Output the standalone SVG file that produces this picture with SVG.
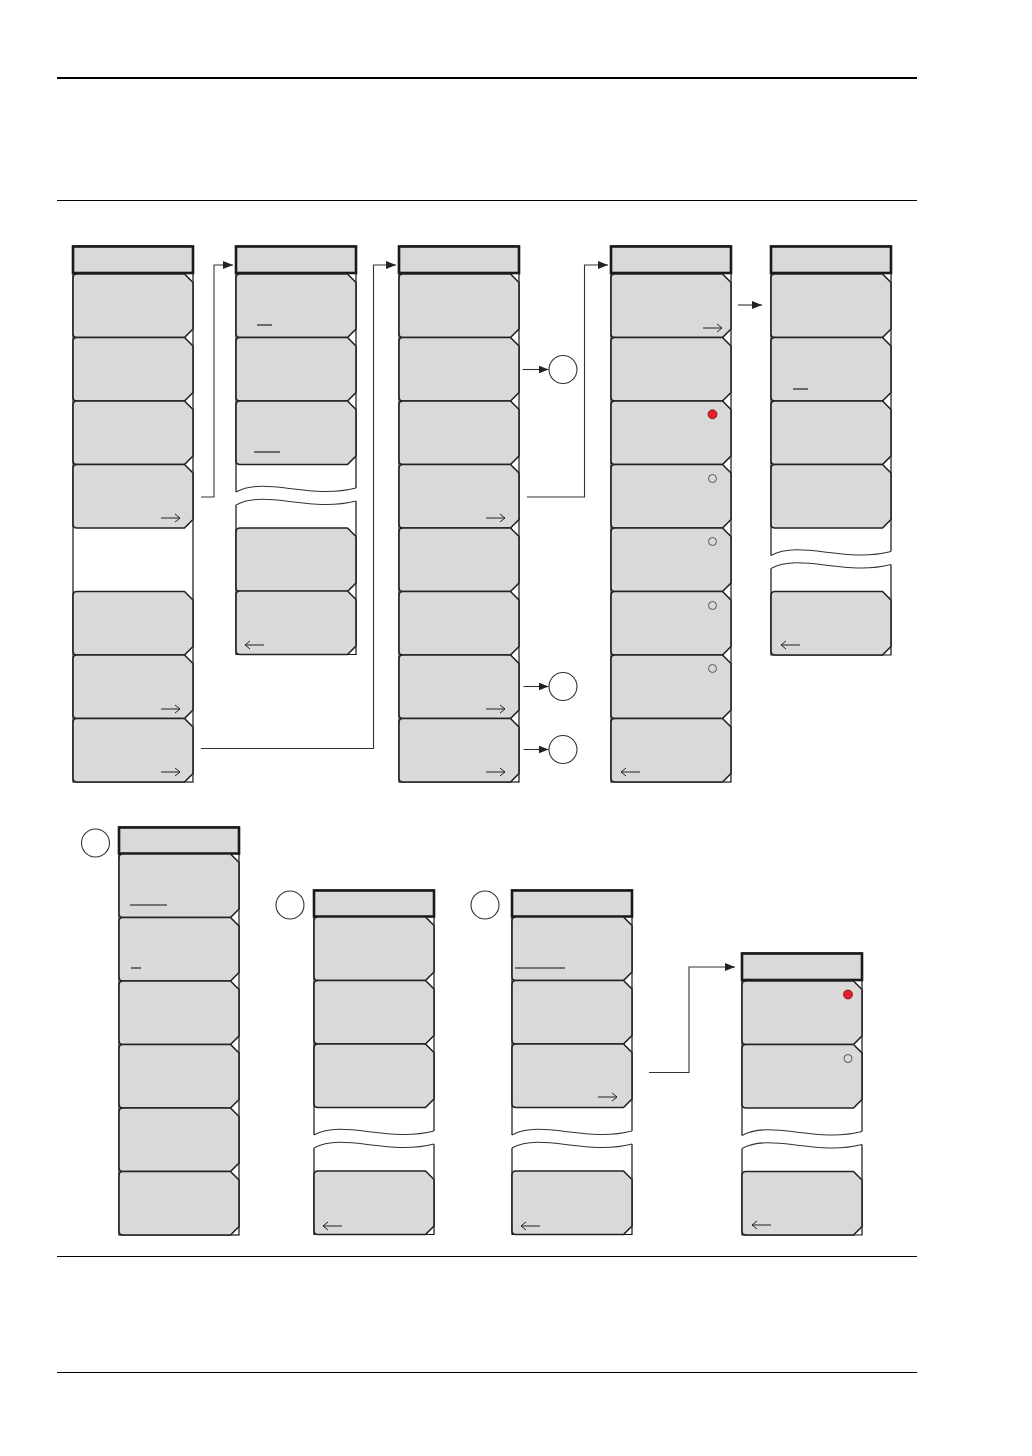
<svg xmlns="http://www.w3.org/2000/svg" width="1032" height="1456" viewBox="0 0 1032 1456">
<defs>
<style>
.btn{fill:#d9d9d9;stroke:#222;stroke-width:1.6;stroke-linejoin:round}
.hdr{fill:#d9d9d9;stroke:#1a1a1a;stroke-width:2.6}
.box{fill:none;stroke:#111;stroke-width:1.2}
.wave{fill:none;stroke:#333;stroke-width:1.1}
.ico{fill:none;stroke:#222;stroke-width:1}
.ul{stroke:#111;stroke-width:1.1}
.hol{fill:#d9d9d9;stroke:#555;stroke-width:1}
.red{fill:#e3202b;stroke:#7a1010;stroke-width:0.8}
.off{fill:#fff;stroke:#333;stroke-width:1.1}
.con{fill:none;stroke:#333;stroke-width:1.1}
.rule{stroke:#000}
</style>
<marker id="ah" viewBox="0 0 10 8" refX="10" refY="4" markerWidth="10" markerHeight="8" markerUnits="userSpaceOnUse" orient="auto">
<path d="M0,0 L10,4 L0,8 Z" fill="#222"/>
</marker>
<path id="b" d="M4,0 H111.5 L120,8.5 V55 L111.5,63.5 H4 Q0,63.5 0,59.5 V4 Q0,0 4,0 Z"/>
<path id="ra" d="M0,0 H19 M14,-4 L19,0 L14,4"/>
<path id="la" d="M19,0 H0 M5,-4 L0,0 L5,4"/>
</defs>
<rect width="1032" height="1456" fill="#fff"/>

<g id="page-rules">
<line class="rule" x1="57" y1="78" x2="917" y2="78" stroke-width="2.2"/>
<line class="rule" x1="57" y1="200.5" x2="917" y2="200.5" stroke-width="1"/>
<line class="rule" x1="57" y1="1256.5" x2="917" y2="1256.5" stroke-width="1"/>
<line class="rule" x1="57" y1="1372.5" x2="917" y2="1372.5" stroke-width="1"/>
</g>

<g id="menu1" transform="translate(73,0)">
<rect class="box" x="0" y="246" width="120" height="536"/>
<rect class="hdr" x="0" y="246.5" width="120" height="26.5"/>
<use href="#b" class="btn" y="274"/>
<use href="#b" class="btn" y="337.5"/>
<use href="#b" class="btn" y="401"/>
<use href="#b" class="btn" y="464.5"/>
<use href="#b" class="btn" y="591.5"/>
<use href="#b" class="btn" y="655"/>
<use href="#b" class="btn" y="718.5"/>
<use href="#ra" class="ico" x="88" y="518"/>
<use href="#ra" class="ico" x="88" y="709"/>
<use href="#ra" class="ico" x="88" y="772"/>
</g>

<g id="menu2" transform="translate(236,0)">
<path class="box" d="M0,492 V246 H120 V488"/>
<path class="box" d="M0,505 V654.5 H120 V501"/>
<rect class="hdr" x="0" y="246.5" width="120" height="26.5"/>
<use href="#b" class="btn" y="274"/>
<use href="#b" class="btn" y="337.5"/>
<use href="#b" class="btn" y="401"/>
<path class="wave" d="M0,492 C29,476 74,500 120,488"/>
<path class="wave" d="M0,505 C29,489 74,513 120,501"/>
<use href="#b" class="btn" y="528"/>
<use href="#b" class="btn" y="591"/>
<line class="ul" x1="21" y1="325" x2="36" y2="325"/>
<line class="ul" x1="18" y1="452" x2="44" y2="452"/>
<use href="#la" class="ico" x="9" y="645"/>
</g>

<g id="menu3" transform="translate(399,0)">
<rect class="box" x="0" y="246" width="120" height="536"/>
<rect class="hdr" x="0" y="246.5" width="120" height="26.5"/>
<use href="#b" class="btn" y="274"/>
<use href="#b" class="btn" y="337.5"/>
<use href="#b" class="btn" y="401"/>
<use href="#b" class="btn" y="464.5"/>
<use href="#b" class="btn" y="528"/>
<use href="#b" class="btn" y="591.5"/>
<use href="#b" class="btn" y="655"/>
<use href="#b" class="btn" y="718.5"/>
<use href="#ra" class="ico" x="87" y="518"/>
<use href="#ra" class="ico" x="87" y="709"/>
<use href="#ra" class="ico" x="87" y="772"/>
</g>

<g id="menu4" transform="translate(611,0)">
<rect class="box" x="0" y="246" width="120" height="536"/>
<rect class="hdr" x="0" y="246.5" width="120" height="26.5"/>
<use href="#b" class="btn" y="274"/>
<use href="#b" class="btn" y="337.5"/>
<use href="#b" class="btn" y="401"/>
<use href="#b" class="btn" y="464.5"/>
<use href="#b" class="btn" y="528"/>
<use href="#b" class="btn" y="591.5"/>
<use href="#b" class="btn" y="655"/>
<use href="#b" class="btn" y="718.5"/>
<use href="#ra" class="ico" x="92" y="328"/>
<circle class="red" cx="101.5" cy="414.3" r="4.5"/>
<circle class="hol" cx="101.5" cy="478.5" r="4"/>
<circle class="hol" cx="101.5" cy="541.5" r="4"/>
<circle class="hol" cx="101.5" cy="605.5" r="4"/>
<circle class="hol" cx="101.5" cy="668.5" r="4"/>
<use href="#la" class="ico" x="10" y="772"/>
</g>

<g id="menu5" transform="translate(771,0)">
<path class="box" d="M0,555.5 V246 H120 V551.5"/>
<path class="box" d="M0,568.5 V655 H120 V564.5"/>
<rect class="hdr" x="0" y="246.5" width="120" height="26.5"/>
<use href="#b" class="btn" y="274"/>
<use href="#b" class="btn" y="337.5"/>
<use href="#b" class="btn" y="401"/>
<use href="#b" class="btn" y="464.5"/>
<path class="wave" d="M0,555.5 C29,539.5 74,563.5 120,551.5"/>
<path class="wave" d="M0,568.5 C29,552.5 74,576.5 120,564.5"/>
<use href="#b" class="btn" y="591.5"/>
<line class="ul" x1="22" y1="389" x2="37" y2="389"/>
<use href="#la" class="ico" x="10" y="645"/>
</g>

<g id="menuA" transform="translate(119,0)">
<rect class="box" x="0" y="827" width="120" height="408"/>
<rect class="hdr" x="0" y="827.5" width="120" height="26"/>
<use href="#b" class="btn" y="854"/>
<use href="#b" class="btn" y="917.5"/>
<use href="#b" class="btn" y="981"/>
<use href="#b" class="btn" y="1044.5"/>
<use href="#b" class="btn" y="1108"/>
<use href="#b" class="btn" y="1171.5"/>
<line class="ul" x1="11" y1="905" x2="48" y2="905"/>
<line class="ul" x1="12" y1="968" x2="22" y2="968"/>
</g>

<g id="menuB" transform="translate(314,0)">
<path class="box" d="M0,1135 V890 H120 V1131"/>
<path class="box" d="M0,1148 V1234.5 H120 V1144"/>
<rect class="hdr" x="0" y="890.5" width="120" height="26"/>
<use href="#b" class="btn" y="917"/>
<use href="#b" class="btn" y="980.5"/>
<use href="#b" class="btn" y="1044"/>
<path class="wave" d="M0,1135 C29,1119 74,1143 120,1131"/>
<path class="wave" d="M0,1148 C29,1132 74,1156 120,1144"/>
<use href="#b" class="btn" y="1171"/>
<use href="#la" class="ico" x="9" y="1226"/>
</g>

<g id="menuC" transform="translate(512,0)">
<path class="box" d="M0,1135 V890 H120 V1131"/>
<path class="box" d="M0,1148 V1234.5 H120 V1144"/>
<rect class="hdr" x="0" y="890.5" width="120" height="26"/>
<use href="#b" class="btn" y="917"/>
<use href="#b" class="btn" y="980.5"/>
<use href="#b" class="btn" y="1044"/>
<path class="wave" d="M0,1135 C29,1119 74,1143 120,1131"/>
<path class="wave" d="M0,1148 C29,1132 74,1156 120,1144"/>
<use href="#b" class="btn" y="1171"/>
<line class="ul" x1="3" y1="968" x2="53" y2="968"/>
<use href="#ra" class="ico" x="86" y="1097"/>
<use href="#la" class="ico" x="9" y="1226"/>
</g>

<g id="menuD" transform="translate(742,0)">
<path class="box" d="M0,1135.5 V953 H120 V1131.5"/>
<path class="box" d="M0,1148.5 V1235 H120 V1144.5"/>
<rect class="hdr" x="0" y="953.5" width="120" height="26.5"/>
<use href="#b" class="btn" y="981"/>
<use href="#b" class="btn" y="1044.5"/>
<path class="wave" d="M0,1135.5 C29,1119.5 74,1143.5 120,1131.5"/>
<path class="wave" d="M0,1148.5 C29,1132.5 74,1156.5 120,1144.5"/>
<use href="#b" class="btn" y="1171.5"/>
<circle class="red" cx="106" cy="994.5" r="4.5"/>
<circle class="hol" cx="106" cy="1058.5" r="4"/>
<use href="#la" class="ico" x="10" y="1225"/>
</g>

<g id="offpage-refs">
<circle id="ref1" class="off" cx="563" cy="369.5" r="14"/>
<circle id="ref2" class="off" cx="563" cy="686.5" r="14"/>
<circle id="ref3" class="off" cx="563" cy="749.5" r="14"/>
<circle id="refA" class="off" cx="95.5" cy="843" r="14"/>
<circle id="refB" class="off" cx="290" cy="905" r="14"/>
<circle id="refC" class="off" cx="485" cy="905" r="14"/>
</g>

<g id="connectors">
<path class="con" d="M201,497 H214 V265 H233" marker-end="url(#ah)"/>
<path class="con" d="M201,748.5 H373.5 V265 H396" marker-end="url(#ah)"/>
<path class="con" d="M527,497 H584.5 V265 H608" marker-end="url(#ah)"/>
<path class="con" d="M738,305 H762" marker-end="url(#ah)"/>
<path class="con" d="M522.5,369.5 H548.5" marker-end="url(#ah)"/>
<path class="con" d="M523.5,686.5 H548.5" marker-end="url(#ah)"/>
<path class="con" d="M523.5,749.5 H548.5" marker-end="url(#ah)"/>
<path class="con" d="M649,1072.5 H689 V967 H735" marker-end="url(#ah)"/>
</g>
</svg>
